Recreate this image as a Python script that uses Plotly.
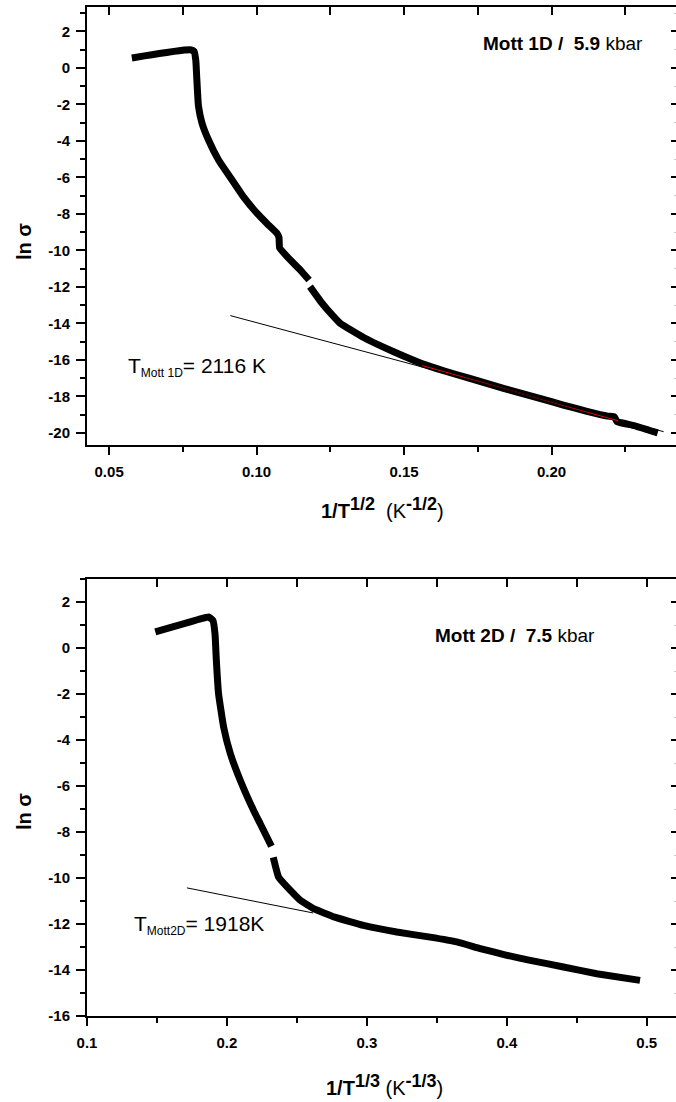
import plotly.graph_objects as go

W, H = 676, 1102

# ---------------- Panel 1 : Mott 1D / 5.9 kbar ----------------
x1 = [0.0577, 0.0620, 0.0670, 0.0720, 0.0755, 0.0775, 0.0788, 0.0794, 0.0797, 0.0800,
      0.0803, 0.0815, 0.0837, 0.0871, 0.0911, 0.0955, 0.1002, 0.1040, 0.1069, 0.1076,
      0.1078, 0.1114, 0.1150, 0.1178, None, 0.1181, 0.1220, 0.1260, 0.1284, 0.1363,
      0.1430, 0.1500, 0.1560, 0.1640, 0.1720, 0.1800, 0.1880, 0.1960, 0.2040, 0.2120,
      0.2190, 0.2213, 0.2222, 0.2280, 0.2330, 0.2360]
y1 = [0.55, 0.66, 0.79, 0.91, 0.98, 1.00, 0.92, 0.40, -0.50, -1.40,
      -2.10, -3.03, -3.95, -5.04, -6.00, -7.05, -7.97, -8.60, -9.06, -9.30,
      -9.85, -10.52, -11.10, -11.62, None, -11.98, -12.85, -13.60, -14.00, -14.77,
      -15.30, -15.80, -16.20, -16.62, -17.00, -17.38, -17.75, -18.10, -18.47, -18.82,
      -19.08, -19.12, -19.38, -19.60, -19.85, -20.00]
fit1_x = [0.1561, 0.2225]
fit1_y = [-16.31, -19.33]
tan1_x = [0.0911, 0.2380]
tan1_y = [-13.57, -19.93]

x1_range = [0.0425, 0.2422]
y1_range = [-20.66, 3.34]
x1_ticks = [0.05, 0.10, 0.15, 0.20]
x1_labels = ["0.05", "0.10", "0.15", "0.20"]
x1_top_ticks = [0.05, 0.075, 0.10, 0.125, 0.15, 0.175, 0.20, 0.225]
y1_ticks = [2, 0, -2, -4, -6, -8, -10, -12, -14, -16, -18, -20]
y1_labels = ["2", "0", "-2", "-4", "-6", "-8", "-10", "-12", "-14", "-16", "-18", "-20"]

# ---------------- Panel 2 : Mott 2D / 7.5 kbar ----------------
x2 = [0.1488, 0.1600, 0.1700, 0.1800, 0.1869, 0.1900, 0.1915, 0.1924, 0.1940, 0.1976,
      0.2024, 0.2095, 0.2190, 0.2238, 0.2318, None, 0.2331, 0.2369, 0.2452, 0.2524,
      0.2619, 0.2770, 0.2976, 0.3214, 0.3452, 0.3643, 0.3810, 0.4000, 0.4167, 0.4405,
      0.4643, 0.4952]
y2 = [0.70, 0.90, 1.07, 1.25, 1.35, 1.20, 0.60, -0.50, -1.98, -3.43,
      -4.59, -5.75, -7.06, -7.64, -8.62, None, -9.10, -9.96, -10.53, -10.97,
      -11.33, -11.70, -12.06, -12.35, -12.57, -12.78, -13.07, -13.36, -13.58, -13.87,
      -14.16, -14.45]
tan2_x = [0.1714, 0.2616]
tan2_y = [-10.43, -11.52]

x2_range = [0.1, 0.5209]
y2_range = [-16.0, 3.0]
x2_ticks = [0.1, 0.2, 0.3, 0.4, 0.5]
x2_labels = ["0.1", "0.2", "0.3", "0.4", "0.5"]
x2_top_ticks = [0.15, 0.2, 0.25, 0.3, 0.35, 0.4, 0.45, 0.5]
y2_ticks = [2, 0, -2, -4, -6, -8, -10, -12, -14, -16]
y2_labels = ["2", "0", "-2", "-4", "-6", "-8", "-10", "-12", "-14", "-16"]

FONT = "Liberation Sans, Arial, sans-serif"

def px(x):
    return x / W

def py(y):
    return 1 - y / H

fig = go.Figure()

data_line = dict(color="black", width=7, shape="spline", smoothing=0.3)
fig.add_trace(go.Scatter(x=x1, y=y1, mode="lines", line=data_line, xaxis="x", yaxis="y",
                         connectgaps=False, showlegend=False))
fig.add_trace(go.Scatter(x=fit1_x, y=fit1_y, mode="lines", line=dict(color="red", width=1),
                         xaxis="x", yaxis="y", showlegend=False))
fig.add_trace(go.Scatter(x=tan1_x, y=tan1_y, mode="lines", line=dict(color="black", width=1),
                         xaxis="x", yaxis="y", showlegend=False))
fig.add_trace(go.Scatter(x=x2, y=y2, mode="lines", line=data_line, xaxis="x2", yaxis="y2",
                         connectgaps=False, showlegend=False))
fig.add_trace(go.Scatter(x=tan2_x, y=tan2_y, mode="lines", line=dict(color="black", width=1),
                         xaxis="x2", yaxis="y2", showlegend=False))
# empty helper traces so that the top / right frame axes are drawn
fig.add_trace(go.Scatter(x=[None], y=[None], mode="lines", xaxis="x3", yaxis="y3",
                         showlegend=False, hoverinfo="skip"))
fig.add_trace(go.Scatter(x=[None], y=[None], mode="lines", xaxis="x4", yaxis="y4",
                         showlegend=False, hoverinfo="skip"))

tickfont = dict(family=FONT, size=15, color="black", weight="bold")
xdom = [87 / W, 1.0]
ydom1 = [py(445), py(7)]
ydom2 = [py(1016), py(579)]

common = dict(showgrid=False, zeroline=False, linecolor="black", linewidth=2,
              tickcolor="black", tickwidth=2, automargin=False)

def bottom_x(rng, tv, tt, minor_dtick, anchor):
    return dict(domain=xdom, range=rng, anchor=anchor, tickmode="array", tickvals=tv, ticktext=tt,
                ticks="outside", ticklen=8, showline=True, tickfont=tickfont, ticklabelstandoff=4,
                minor=dict(ticks="outside", ticklen=5, dtick=minor_dtick, tick0=0,
                           tickcolor="black", tickwidth=2),
                **common)

def top_x(rng, tv, over, anchor):
    return dict(domain=xdom, range=rng, overlaying=over, anchor=anchor, side="top",
                tickmode="array", tickvals=tv, ticks="inside", ticklen=8, showline=True,
                showticklabels=False, **common)

def left_y(rng, dom, tv, tt, anchor):
    return dict(domain=dom, range=rng, anchor=anchor, tickmode="array", tickvals=tv, ticktext=tt,
                ticks="outside", ticklen=9, showline=True, tickfont=tickfont, ticklabelstandoff=3,
                minor=dict(ticks="outside", ticklen=5, dtick=1, tick0=0,
                           tickcolor="black", tickwidth=2),
                **common)

def right_y(rng, dom, tv, over, anchor):
    return dict(domain=dom, range=rng, overlaying=over, anchor=anchor, side="right",
                tickmode="array", tickvals=tv, ticks="inside", ticklen=5, showline=False,
                showticklabels=False,
                minor=dict(ticks="inside", ticklen=2, dtick=1, tick0=0, tickcolor="#c8c8c8",
                           tickwidth=1),
                showgrid=False, zeroline=False, tickcolor="black", tickwidth=2, automargin=False)

fig.update_layout(
    template="none",
    width=W, height=H,
    margin=dict(l=0, r=0, t=0, b=0, pad=0),
    paper_bgcolor="white", plot_bgcolor="white",
    showlegend=False,
    xaxis=bottom_x(x1_range, x1_ticks, x1_labels, 0.025, "y"),
    xaxis3=top_x(x1_range, x1_top_ticks, "x", "y3"),
    yaxis=left_y(y1_range, ydom1, y1_ticks, y1_labels, "x"),
    yaxis3=right_y(y1_range, ydom1, y1_ticks, "y", "x3"),
    xaxis2=bottom_x(x2_range, x2_ticks, x2_labels, 0.05, "y2"),
    xaxis4=top_x(x2_range, x2_top_ticks, "x2", "y4"),
    yaxis2=left_y(y2_range, ydom2, y2_ticks, y2_labels, "x2"),
    yaxis4=right_y(y2_range, ydom2, y2_ticks, "y2", "x4"),
)

def ann(text, x, y, size, xanchor="left", yanchor="middle", angle=0, weight="normal"):
    fig.add_annotation(text=text, x=px(x), y=py(y), xref="paper", yref="paper",
                       xanchor=xanchor, yanchor=yanchor, showarrow=False, textangle=angle,
                       font=dict(family=FONT, size=size, color="black", weight=weight))

# Panel labels
ann("<b>Mott 1D /  5.9</b> kbar", 645, 43, 19, xanchor="right")
ann("<b>Mott 2D /  7.5</b> kbar", 597, 635, 19, xanchor="right")

# Mott temperatures
ann('T<sub><span style="font-size:12px">Mott 1D</span></sub>= 2116 K', 126, 367, 21)
ann('T<sub><span style="font-size:12px">Mott2D</span></sub>= 1918K', 132, 925, 21)

# Axis titles
ann("<b>ln σ</b>", 24, 242, 20, xanchor="center", angle=-90)
ann("<b>ln σ</b>", 24, 812, 20, xanchor="center", angle=-90)
ann('<b>1/T<sup><span style="font-size:18px">1/2</span></sup></b>  '
    '(K<b><sup><span style="font-size:18px">-1/2</span></sup></b>)', 383, 508, 20, xanchor="center")
ann('<b>1/T<sup><span style="font-size:18px">1/3</span></sup></b> '
    '(K<b><sup><span style="font-size:18px">-1/3</span></sup></b>)', 384, 1085, 20, xanchor="center")

fig.write_html("out.html", config={"displayModeBar": False},
               post_script="document.body.style.margin='0';document.body.style.overflow='hidden';")
